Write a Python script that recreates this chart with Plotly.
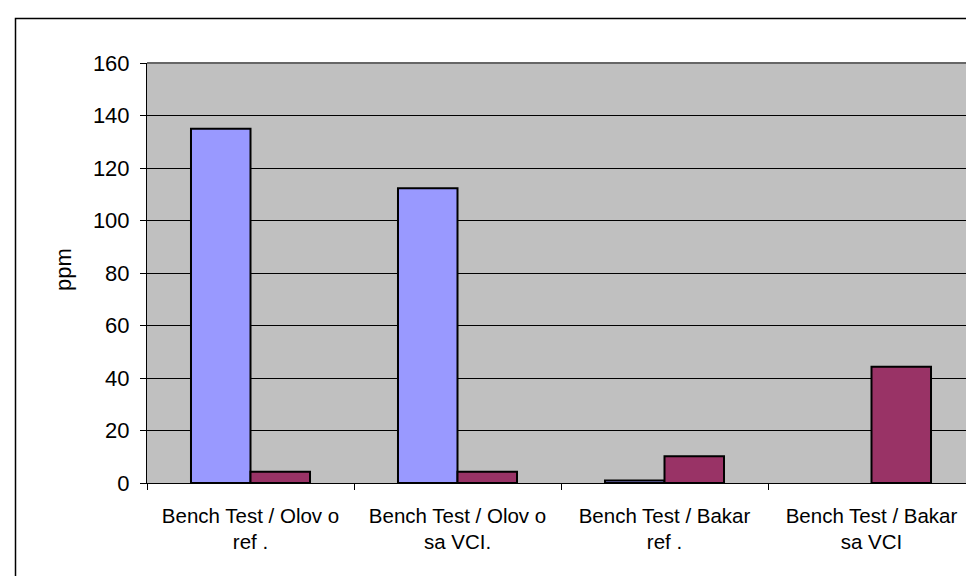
import plotly.graph_objects as go

categories = ["Bench Test / Olov o<br>ref .", "Bench Test / Olov o<br>sa VCI.",
              "Bench Test / Bakar<br>ref .", "Bench Test / Bakar<br>sa VCI"]
series_a = [135, 112.3, 1, None]
series_b = [4.3, 4.3, 10.2, 44.3]
y_ticks = [0, 20, 40, 60, 80, 100, 120, 140, 160]

W, H = 974, 576
L, R, T, B = 139, 7, 55, 101
pw, ph = W - L - R, H - T - B

def px(x):
    return (x - L) / pw

def py(y):
    return (H - B - y) / ph

fig = go.Figure()
fig.add_trace(go.Bar(x=categories, y=series_a, marker=dict(color="#9999FF", line=dict(color="black", width=2)), showlegend=False))
fig.add_trace(go.Bar(x=categories, y=series_b, marker=dict(color="#993366", line=dict(color="black", width=2)), showlegend=False))

font = "Arial, Liberation Sans, sans-serif"
fig.update_layout(
    width=W, height=H,
    margin=dict(l=L, r=R, t=T, b=B, autoexpand=False),
    paper_bgcolor="white", plot_bgcolor="#C0C0C0",
    barmode="group", bargap=0.425, bargroupgap=0,
    font=dict(family=font, color="black"),
    xaxis=dict(type="category", tickson="boundaries", ticks="outside", ticklen=6, tickcolor="black",
               showline=True, linecolor="black", linewidth=1, showgrid=False,
               tickfont=dict(size=20.5, family=font), ticklabelstandoff=14),
    yaxis=dict(range=[0, 160], tickvals=y_ticks, ticks="outside", ticklen=6, tickcolor="black",
               showline=True, linecolor="black", linewidth=1, gridcolor="black", gridwidth=1,
               zeroline=False, tickfont=dict(size=22, family=font), ticklabelstandoff=6),
    shapes=[
        dict(type="line", xref="paper", yref="paper", x0=0, x1=1, y0=1, y1=1, line=dict(color="#666666", width=2)),
        dict(type="line", xref="paper", yref="paper", x0=1, x1=1, y0=0, y1=1, line=dict(color="#808080", width=2)),
        dict(type="rect", xref="paper", yref="paper", x0=px(7.5), x1=px(990), y0=py(600), y1=py(10.5),
             line=dict(color="black", width=1.5), layer="above"),
    ],
    annotations=[
        dict(text="ppm", xref="paper", yref="paper", x=px(55), y=py(262), textangle=-90,
             showarrow=False, xanchor="center", yanchor="middle", font=dict(size=22, family=font)),
    ],
)

fig.write_html("out.html")
